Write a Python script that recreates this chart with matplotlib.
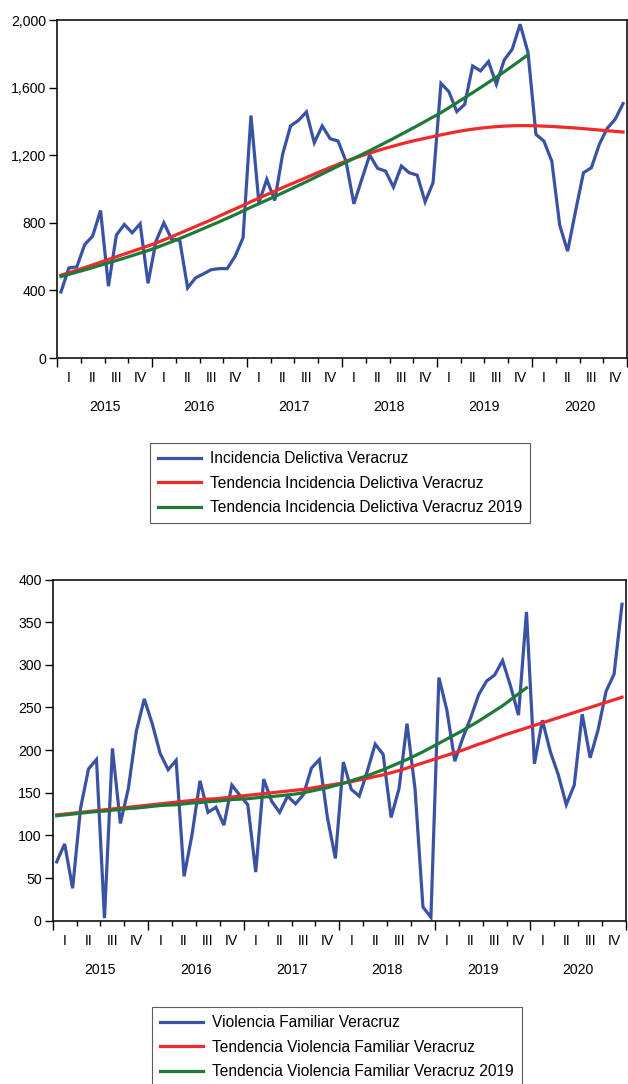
import numpy as np
import matplotlib
matplotlib.use("Agg")
import matplotlib.pyplot as plt
from matplotlib.transforms import offset_copy

plt.rcParams['font.family'] = ['Liberation Sans', 'DejaVu Sans']

# ---------------- data ----------------
years = ["2015", "2016", "2017", "2018", "2019", "2020"]
quarters = ["I", "II", "III", "IV"]

incidencia = [391, 533, 539, 671, 721, 873, 425, 727, 790, 741, 794, 442,
              691, 800, 701, 697, 415, 474, 498, 523, 529, 529, 602, 711,
              1435, 918, 1057, 932, 1205, 1373, 1406, 1456, 1274, 1373, 1298, 1284,
              1165, 912, 1057, 1201, 1122, 1106, 1011, 1136, 1096, 1082, 924, 1037,
              1625, 1576, 1458, 1501, 1728, 1699, 1754, 1620, 1764, 1827, 1975, 1807,
              1323, 1284, 1165, 786, 632, 869, 1096, 1126, 1264, 1359, 1412, 1505]

tend_incidencia = [490, 505, 520, 535, 551, 567, 583, 599, 615, 631, 647, 663,
                   680, 699, 718, 738, 758, 778, 798, 818, 840, 861, 882, 903,
                   925, 946, 967, 987, 1008, 1028, 1048, 1068, 1088, 1108, 1127, 1146,
                   1165, 1181, 1197, 1212, 1227, 1241, 1254, 1267, 1279, 1290, 1300, 1310,
                   1320, 1330, 1339, 1347, 1354, 1360, 1365, 1369, 1372, 1374, 1375, 1375,
                   1374, 1372, 1370, 1367, 1364, 1361, 1357, 1353, 1349, 1345, 1341, 1337]

tend_incidencia_2019 = [482, 495, 508, 521, 535, 549, 563, 577, 591, 606, 621, 636,
                        652, 670, 688, 707, 726, 746, 766, 786, 806, 827, 848, 870,
                        892, 913, 934, 955, 977, 999, 1021, 1043, 1066, 1089, 1112, 1135,
                        1158, 1181, 1204, 1227, 1251, 1275, 1299, 1324, 1349, 1374, 1400, 1426,
                        1452, 1481, 1510, 1540, 1570, 1600, 1631, 1662, 1694, 1727, 1760, 1795]

violencia = [69, 90, 38, 132, 178, 189, 3, 202, 114, 155, 222, 260,
             231, 196, 177, 188, 52, 101, 164, 127, 133, 112, 159, 147,
             136, 57, 166, 140, 127, 146, 137, 148, 179, 189, 121, 73,
             186, 154, 146, 175, 207, 195, 121, 155, 231, 155, 16, 4,
             285, 247, 187, 214, 238, 265, 281, 288, 305, 275, 241, 362,
             184, 235, 198, 171, 136, 159, 242, 191, 224, 269, 289, 371]

tend_violencia = [124, 125, 126, 127, 128, 129, 130, 131, 132, 133, 134, 135,
                  136, 137, 138, 139, 140, 141, 142, 142.5, 143, 144, 145, 146,
                  147, 148, 149, 150, 151, 152, 153, 154, 155.5, 157, 158.5, 160,
                  161.5, 163, 165, 167, 169, 171, 173.5, 176, 179, 182, 185, 188,
                  191, 194, 197, 200, 203.5, 207, 210, 213.5, 217, 220, 223, 226,
                  229, 232, 235, 238, 241, 244, 247, 250, 253, 256, 259, 262]

tend_violencia_2019 = [123, 124, 125, 126, 127, 128, 128.5, 129.5, 130.5, 131.5, 132, 133,
                       134, 135, 135.5, 136, 137, 138, 138.5, 139.5, 140, 141, 142, 142.5,
                       143, 144, 145, 145.5, 146.5, 147.5, 148.5, 150, 152, 154, 156, 158.5,
                       161, 164, 167, 170, 173.5, 177, 181, 185, 189, 193.5, 198, 203,
                       208, 213, 218, 223, 228.5, 234, 240, 246, 252, 259, 266, 273]

labels_top = ["Incidencia Delictiva Veracruz",
              "Tendencia Incidencia Delictiva Veracruz",
              "Tendencia Incidencia Delictiva Veracruz 2019"]
labels_bot = ["Violencia Familiar Veracruz",
              "Tendencia Violencia Familiar Veracruz",
              "Tendencia Violencia Familiar Veracruz 2019"]

BLUE = "#3a52a3"
RED = "#ee2a2a"
GREEN = "#1f7a3a"
FS = 10.2
LFS = 11.2

W, H = 628, 1084
fig = plt.figure(figsize=(W / 100, H / 100), dpi=100)


def fx(px):
    return px / W


def fy(py):
    return 1 - py / H


def make_panel(rect, series, trend, trend19, ymax, ystep, labels, fmt, legend_xy):
    ax = fig.add_axes(rect)
    n = len(series)
    x = np.arange(n) + 0.5
    l1, = ax.plot(x, series, color=BLUE, lw=2.3, solid_joinstyle='miter')
    l2, = ax.plot(x, trend, color=RED, lw=2.3)
    l3, = ax.plot(x[:len(trend19)], trend19, color=GREEN, lw=2.3)
    ax.set_xlim(0, n)
    ax.set_ylim(0, ymax)
    ax.set_yticks(np.arange(0, ymax + 1, ystep))
    ax.set_yticklabels([fmt(v) for v in np.arange(0, ymax + 1, ystep)])
    ax.set_xticks(np.arange(0, n + 1, 12))
    ax.set_xticks(np.arange(0, n + 1, 3), minor=True)
    ax.set_xticklabels([])
    ax.tick_params(axis='x', which='major', direction='out', length=6.5, width=1.0)
    ax.tick_params(axis='x', which='minor', direction='out', length=3.8, width=1.0)
    ax.tick_params(axis='y', which='major', direction='out', length=5.5, width=1.0,
                   pad=2.5, labelsize=FS)
    for s in ax.spines.values():
        s.set_linewidth(1.2)
        s.set_color('#111111')
    trans = ax.get_xaxis_transform()
    qtrans = offset_copy(trans, fig=fig, y=-20, units='dots')
    ytrans = offset_copy(trans, fig=fig, y=-49, units='dots')
    for yi, yl in enumerate(years):
        for qi, ql in enumerate(quarters):
            ax.text(yi * 12 + qi * 3 + 1.5, 0, ql, transform=qtrans, ha='center',
                    va='center', fontsize=FS)
        ax.text(yi * 12 + 6, 0, yl, transform=ytrans, ha='center', va='center',
                fontsize=FS)
    leg = fig.legend([l1, l2, l3], labels, loc='upper left',
                     bbox_to_anchor=legend_xy, bbox_transform=fig.transFigure,
                     frameon=True, fancybox=False, edgecolor='#333333',
                     fontsize=LFS, handlelength=2.75, handletextpad=0.6,
                     labelspacing=0.62, borderpad=0.52, borderaxespad=0)
    leg.get_frame().set_linewidth(0.8)
    return ax


make_panel([fx(57), fy(358), fx(627) - fx(57), fy(20) - fy(358)],
           incidencia, tend_incidencia, tend_incidencia_2019, 2000, 400,
           labels_top, lambda v: f"{int(v):,}", (fx(150), fy(443)))

make_panel([fx(52.7), fy(920.7), fx(626) - fx(52.7), fy(579.5) - fy(920.7)],
           violencia, tend_violencia, tend_violencia_2019, 400, 50,
           labels_bot, lambda v: f"{int(v)}", (fx(152), fy(1007)))

fig.savefig("out.png", dpi=100)
